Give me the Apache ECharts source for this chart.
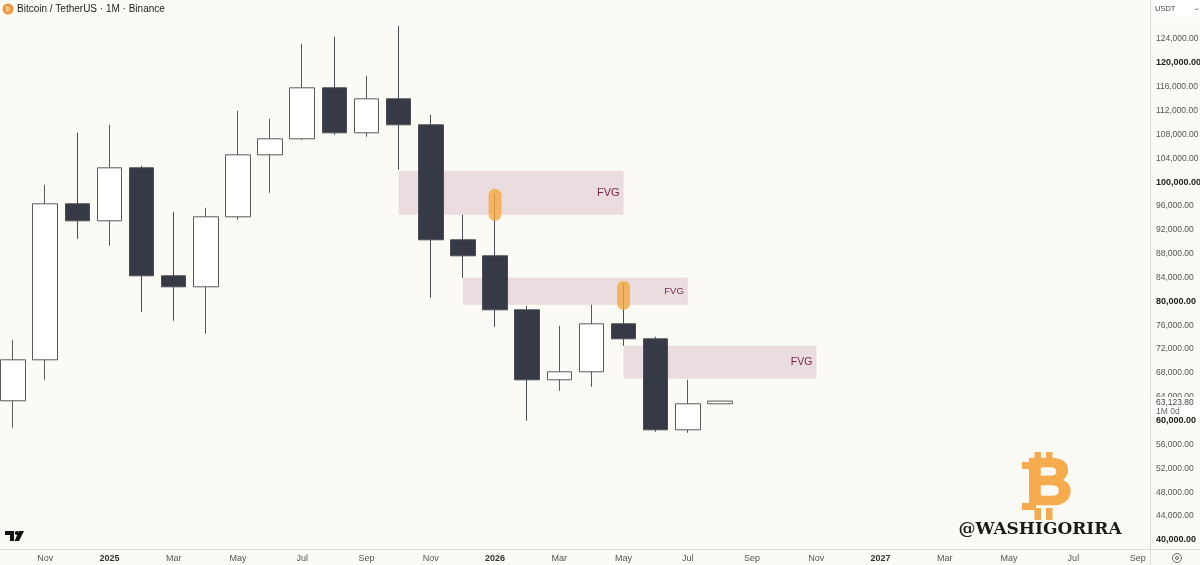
<!DOCTYPE html>
<html>
<head>
<meta charset="utf-8">
<style>html,body{margin:0;padding:0;background:#FBFAF4}#c{width:1200px;height:565px}</style>
<script src="https://cdn.jsdelivr.net/npm/echarts@6/dist/echarts.min.js"></script>
</head>
<body>
<div id="c"></div>
<script>
const months = ['2024-10','2024-11','2024-12','2025-01','2025-02','2025-03','2025-04','2025-05','2025-06','2025-07','2025-08','2025-09','2025-10','2025-11','2025-12','2026-01','2026-02','2026-03','2026-04','2026-05','2026-06','2026-07','2026-08','2026-09','2026-10','2026-11','2026-12','2027-01','2027-02','2027-03','2027-04','2027-05','2027-06','2027-07','2027-08','2027-09'];
const xTickLabels = ['','Nov','','2025','','Mar','','May','','Jul','','Sep','','Nov','','2026','','Mar','','May','','Jul','','Sep','','Nov','','2027','','Mar','','May','','Jul','','Sep'];
const opens  = [63170,70043,96195,93345,102230,84125,82281,94016,104409,107092,115641,108098,113797,109439,90160,87478,78425,66690,68032,76078,73564,58308,62667];
const closes = [70043,96195,93345,102230,84125,82281,94016,104409,107092,115641,108098,113797,109439,90160,87478,78425,66690,68032,76078,73564,58308,62667,63124];
const lows   = [58644,66690,90328,89154,78090,76581,74402,93513,98039,106924,107762,107427,101895,80437,83790,75575,59817,64846,65517,72390,57973,57806,62667];
const highs  = [73396,99380,108098,109439,102565,94854,95525,111786,110445,123018,124191,117653,126035,111115,94351,98039,79096,75743,79263,82784,73899,66690,63124];
const fvgZones = [
  {from:'2025-10', to:'2026-05', top:101727, bottom:94350, size:11},
  {from:'2025-12', to:'2026-07', top:83790, bottom:79260, size:9.5},
  {from:'2026-05', to:'2026-11', top:72389, bottom:66857, size:10.5}
];
const pills = [['2026-01',98710,93345],['2026-05',83287,78425]];
const lastPrice = 63123.80;
const boldTicks = [120000,100000,80000,60000,40000];

const BG='#FBFAF4', UI='Liberation Sans, Arimo, sans-serif', LOGO='#F6AC4E';
const candleData = opens.map((o,i)=>[o,closes[i],lows[i],highs[i]]);
const chart = echarts.init(document.getElementById('c'),null,{renderer:'canvas'});
chart.setOption({
  backgroundColor:BG,
  animation:false,
  grid:{left:-3,top:14.1,width:1156.7,height:524.9,containLabel:false,outerBoundsMode:'none'},
  xAxis:{type:'category',data:months,boundaryGap:true,offset:10,
    axisLine:{show:false},axisTick:{show:false},splitLine:{show:false},
    axisLabel:{interval:(i)=>xTickLabels[i]!=='',margin:5,fontFamily:UI,fontSize:9,hideOverlap:false,
      formatter:(v,i)=>{const t=xTickLabels[i];return /^\d+$/.test(t)?'{b|'+t+'}':'{r|'+t+'}';},
      rich:{b:{fontFamily:UI,fontSize:9,fontWeight:'bold',color:'#333'},r:{fontFamily:UI,fontSize:9,color:'#555'}}}},
  yAxis:{type:'value',position:'right',offset:-3.7,min:40000,max:128000,interval:4000,scale:false,
    axisLine:{show:false},axisTick:{show:false},splitLine:{show:false},
    axisLabel:{margin:6,showMaxLabel:false,fontFamily:UI,
      formatter:(v)=>{const t=v.toLocaleString('en-US',{minimumFractionDigits:2,maximumFractionDigits:2});return boldTicks.includes(v)?'{b|'+t+'}':'{r|'+t+'}';},
      rich:{b:{fontFamily:UI,fontSize:9,fontWeight:'bold',color:'#222',padding:[2,0,0,0]},r:{fontFamily:UI,fontSize:8.5,color:'#555',padding:[2,0,0,0]}}}},
  series:[
    {type:'candlestick',name:'BTCUSDT',data:candleData,barWidth:25,z:5,
      itemStyle:{color:'#FFFFFF',color0:'#363A45',borderColor:'#5A5A5A',borderColor0:'#4A4D57',borderWidth:1},
      markArea:{silent:true,z:1,itemStyle:{color:'#EBDDDF'},
        data:fvgZones.map(z=>[
          {xAxis:z.from,yAxis:z.top,label:{show:true,formatter:'FVG',position:'insideRight',distance:4,color:'#7A2352',fontSize:z.size,fontFamily:UI}},
          {xAxis:z.to,yAxis:z.bottom}
        ])}
    },
    {type:'custom',name:'pills',z:6,data:pills,encode:{x:0,y:[1,2]},clip:false,
      renderItem:(p,api)=>{
        const a=api.coord([api.value(0),api.value(1)]), b=api.coord([api.value(0),api.value(2)]);
        return {type:'rect',shape:{x:a[0]-6.5,y:a[1],width:13,height:b[1]-a[1],r:6.5},style:{fill:'rgba(245,166,60,0.78)'}};
      }},
    {type:'custom',name:'lastPrice',z:20,data:[[months[22],lastPrice]],clip:false,encode:{x:0,y:1},
      renderItem:(p,api)=>{
        const y=api.coord([api.value(0),api.value(1)])[1];
        return {type:'group',children:[
          {type:'rect',shape:{x:1151,y:y-4,width:49,height:19},style:{fill:'#FFFFFF'}},
          {type:'text',style:{x:1156,y:y+1.5,text:lastPrice.toLocaleString('en-US',{minimumFractionDigits:2}),fill:'#444',font:'8.5px '+UI,textVerticalAlign:'middle'}},
          {type:'text',style:{x:1156,y:y+10.5,text:'1M 0d',fill:'#666',font:'8.5px '+UI,textVerticalAlign:'middle'}}
        ]};
      }}
  ],
  graphic:[
    {type:'line',z:30,shape:{x1:0,y1:549.5,x2:1200,y2:549.5},style:{stroke:'#DEDDD6',lineWidth:1}},
    {type:'line',z:30,shape:{x1:1150.5,y1:0,x2:1150.5,y2:565},style:{stroke:'#DEDDD6',lineWidth:1}},
    {type:'circle',z:30,shape:{cx:8,cy:9,r:5.5},style:{fill:'#F0953A'}},
    {type:'text',z:31,style:{x:8,y:9,text:'₿',fill:'#FCE3C4',font:'bold 7px DejaVu Sans',textAlign:'center',textVerticalAlign:'middle'}},
    {type:'text',z:30,style:{x:17,y:9,text:'Bitcoin / TetherUS · 1M · Binance',fill:'#222',font:'10px '+UI,textVerticalAlign:'middle'}},
    {type:'rect',z:30,shape:{x:1153,y:0,width:47,height:17},style:{fill:'#FFFFFF'}},
    {type:'text',z:31,style:{x:1155,y:9,text:'USDT',fill:'#444',font:'7.5px '+UI,textVerticalAlign:'middle'}},
    {type:'polyline',z:31,shape:{points:[[1195,8.5],[1196.5,10],[1198,8.5]]},style:{stroke:'#555',fill:'none',lineWidth:1}},
    {type:'polygon',z:30,shape:{points:[[5,531],[14,531],[14,541],[10,541],[10,535],[5,535]]},style:{fill:'#111'}},
    {type:'circle',z:30,shape:{cx:16.8,cy:533,r:2},style:{fill:'#111'}},
    {type:'polygon',z:30,shape:{points:[[19,531],[24,531],[19,541],[14.5,541]]},style:{fill:'#111'}},
    {type:'circle',z:30,shape:{cx:1177,cy:558,r:4.5},style:{fill:'none',stroke:'#666',lineWidth:1}},
    {type:'circle',z:30,shape:{cx:1177,cy:558,r:1.5},style:{fill:'none',stroke:'#666',lineWidth:1}},
    // Bitcoin logo: letter with top and bottom ticks and left serifs
    {type:'rect',z:30,shape:{x:1034.5,y:452,width:6.5,height:12},style:{fill:LOGO}},
    {type:'rect',z:30,shape:{x:1046,y:452,width:6.5,height:12},style:{fill:LOGO}},
    {type:'rect',z:30,shape:{x:1034.5,y:508,width:6.5,height:12},style:{fill:LOGO}},
    {type:'rect',z:30,shape:{x:1046,y:508,width:6.5,height:12},style:{fill:LOGO}},
    {type:'rect',z:30,shape:{x:1022,y:462,width:14,height:7},style:{fill:LOGO}},
    {type:'rect',z:30,shape:{x:1022,y:503,width:14,height:7},style:{fill:LOGO}},
    {type:'text',z:30,style:{x:1049,y:486,text:'B',fill:LOGO,stroke:LOGO,lineWidth:2.5,font:'bold 64px Liberation Sans',textAlign:'center',textVerticalAlign:'middle'}},
    {type:'text',z:30,style:{x:1040,y:530,text:'@WASHIGORIRA',fill:'#1A1A1A',font:'bold 17px DejaVu Serif',textAlign:'center',textVerticalAlign:'middle'}}
  ]
});
</script>
</body>
</html>
